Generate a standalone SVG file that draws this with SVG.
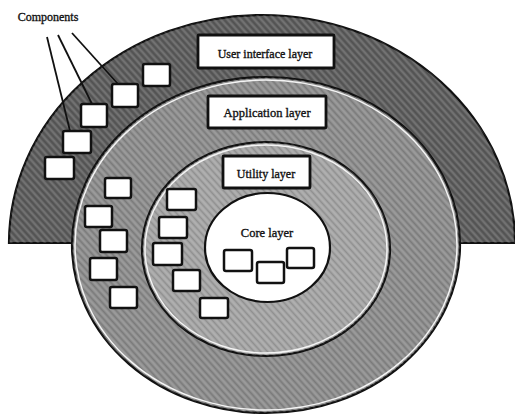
<svg xmlns="http://www.w3.org/2000/svg" width="515" height="417" viewBox="0 0 515 417">
<defs>
<pattern id="tex" width="5" height="5" patternUnits="userSpaceOnUse" patternTransform="rotate(-42)">
<line x1="1" y1="0" x2="1" y2="5" stroke="#ffffff" stroke-opacity="0.22" stroke-width="1.2"/>
<line x1="3.5" y1="0" x2="3.5" y2="5" stroke="#000000" stroke-opacity="0.12" stroke-width="1"/>
</pattern>
<style>
.comp{fill:#fff;stroke:#111;stroke-width:2.5;}
.lbl{fill:#fff;stroke:#111;stroke-width:2.8;}
.t{font-family:"Liberation Serif","Times New Roman",serif;fill:#111;stroke:#111;stroke-width:0.35;text-anchor:middle;}
.hl{fill:none;stroke:#f4f4f4;stroke-width:1.5;}
.ol{stroke:#111;stroke-width:2.2;}
.lead{stroke:#111;stroke-width:1.8;fill:none;}
</style>
</defs>
<rect width="515" height="417" fill="#ffffff"/>

<g id="ui-layer">
<path d="M9,243 A253,228 0 0 1 515,243 Z" fill="#5c5c5c" class="ol"/>
<path d="M9,243 A253,228 0 0 1 515,243 Z" fill="url(#tex)"/>
</g>

<g id="application-layer">
<ellipse cx="266" cy="245" rx="194" ry="168" fill="#8b8b8b" class="ol"/>
<ellipse cx="266" cy="245" rx="194" ry="168" fill="url(#tex)"/>
<ellipse cx="266" cy="245" rx="191" ry="165" class="hl"/>
</g>

<g id="utility-layer">
<ellipse cx="266" cy="249" rx="124" ry="107" fill="#a3a3a3" class="ol"/>
<ellipse cx="266" cy="249" rx="124" ry="107" fill="url(#tex)"/>
<ellipse cx="266" cy="249" rx="121" ry="104" class="hl"/>
</g>

<g id="core-layer">
<ellipse cx="267.5" cy="247.5" rx="62.5" ry="54.5" fill="#ffffff" class="ol"/>
<text class="t" x="267" y="237" font-size="12.5">Core layer</text>
<rect class="comp" x="224" y="250" width="28" height="21" rx="2"/>
<rect class="comp" x="257" y="262" width="27" height="21" rx="2"/>
<rect class="comp" x="287" y="248" width="27" height="20" rx="2"/>
</g>

<g id="ui-label">
<rect class="lbl" x="198" y="35" width="136" height="33" rx="1"/>
<text class="t" x="265" y="58" font-size="12">User interface layer</text>
</g>
<g id="app-label">
<rect class="lbl" x="208" y="96" width="118" height="32" rx="1"/>
<text class="t" x="267" y="117" font-size="12.5">Application layer</text>
</g>
<g id="utility-label">
<rect class="lbl" x="223" y="156" width="87" height="32" rx="1"/>
<text class="t" x="266" y="178" font-size="12">Utility layer</text>
</g>

<g id="ui-components">
<rect class="comp" x="143" y="64" width="27" height="22" rx="2"/>
<rect class="comp" x="112" y="84" width="26" height="23" rx="2"/>
<rect class="comp" x="81" y="104" width="26" height="23" rx="2"/>
<rect class="comp" x="63" y="131" width="28" height="22" rx="2"/>
<rect class="comp" x="45" y="157" width="29" height="22" rx="2"/>
</g>
<g id="app-components">
<rect class="comp" x="105" y="178" width="26" height="20" rx="2"/>
<rect class="comp" x="85" y="206" width="27" height="21" rx="2"/>
<rect class="comp" x="100" y="230" width="27" height="22" rx="2"/>
<rect class="comp" x="90" y="258" width="27" height="22" rx="2"/>
<rect class="comp" x="110" y="287" width="27" height="21" rx="2"/>
</g>
<g id="utility-components">
<rect class="comp" x="167" y="189" width="29" height="21" rx="2"/>
<rect class="comp" x="159" y="217" width="28" height="21" rx="2"/>
<rect class="comp" x="153" y="243" width="29" height="22" rx="2"/>
<rect class="comp" x="173" y="270" width="27" height="21" rx="2"/>
<rect class="comp" x="200" y="298" width="28" height="20" rx="2"/>
</g>

<g id="components-label">
<text class="t" x="48" y="21" font-size="12">Components</text>
</g>
<g id="connectors">
<line class="lead" x1="47" y1="37" x2="70" y2="131"/>
<line class="lead" x1="58" y1="35" x2="92" y2="104"/>
<line class="lead" x1="72" y1="33" x2="118" y2="84"/>
</g>
</svg>
